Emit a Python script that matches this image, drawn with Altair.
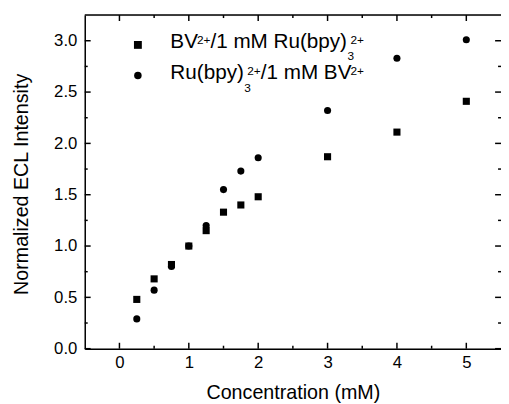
import altair as alt
import pandas as pd

# ---- data ----
conc = [0.25, 0.5, 0.75, 1.0, 1.25, 1.5, 1.75, 2.0, 3.0, 4.0, 5.0]
bv_series = [0.48, 0.68, 0.82, 1.00, 1.15, 1.33, 1.40, 1.48, 1.87, 2.11, 2.41]
ru_series = [0.29, 0.57, 0.80, 1.00, 1.20, 1.55, 1.73, 1.86, 2.32, 2.83, 3.01]
series_names = ["BV/Ru", "Ru/BV"]

x_major = [0, 1, 2, 3, 4, 5]
x_minor = [0.5, 1.5, 2.5, 3.5, 4.5]
y_major = [0.0, 0.5, 1.0, 1.5, 2.0, 2.5, 3.0]
y_minor = [0.25, 0.75, 1.25, 1.75, 2.25, 2.75]

x_title = "Concentration (mM)"
y_title = "Normalized ECL Intensity"

# legend lines as (text, role) segments; role: main / sup / sub / sup_stack
legend_line1 = [("BV", "main"), ("2+", "sup"), ("/1 mM Ru(bpy)", "main"), ("3", "sub"), ("2+", "sup_stack")]
legend_line2 = [("Ru(bpy)", "main"), ("3", "sub"), ("2+", "sup_stack"), ("/1 mM BV", "main"), ("2+", "sup")]

FONT = "Liberation Sans"
W, H = 423, 339
MAIN_FS, SMALL_FS = 21, 12

df = pd.DataFrame({
    "conc": conc * 2,
    "value": bv_series + ru_series,
    "series": [series_names[0]] * len(conc) + [series_names[1]] * len(conc),
})

xscale = alt.Scale(domain=[-0.5, 5.5], nice=False, zero=False)
yscale = alt.Scale(domain=[0, 3.25], nice=False, zero=False)

x_axis = alt.Axis(values=x_major, format="d", labelFont=FONT, labelFontSize=17, labelColor="black",
                  labelPadding=6, ticks=False, tickSize=0, domain=True, domainColor="black",
                  domainWidth=1.5, grid=False, titleFont=FONT, titleFontSize=20, titleColor="black",
                  titleFontWeight="normal", titleX=W / 2, titleY=50.5, titleBaseline="alphabetic",
                  titleAlign="center")
y_axis = alt.Axis(values=y_major, format=".1f", labelFont=FONT, labelFontSize=17, labelColor="black",
                  labelPadding=8, ticks=False, tickSize=0, domain=True, domainColor="black",
                  domainWidth=1.5, grid=False, titleFont=FONT, titleFontSize=20, titleColor="black",
                  titleFontWeight="normal", titleAngle=270, titleX=-58, titleY=171.5,
                  titleBaseline="alphabetic", titleAlign="center")

points = alt.Chart(df).mark_point(filled=True, opacity=1, size=52, strokeWidth=0, color="black").encode(
    x=alt.X("conc:Q", scale=xscale, axis=x_axis, title=x_title),
    y=alt.Y("value:Q", scale=yscale, axis=y_axis, title=y_title),
    shape=alt.Shape("series:N", scale=alt.Scale(domain=series_names, range=["square", "circle"]), legend=None),
)

layers = [points]

# top frame line
one = pd.DataFrame({"a": [0]})
layers.append(alt.Chart(one).mark_rule(color="black", strokeWidth=1.5).encode(
    x=alt.value(0), x2=alt.value(W), y=alt.value(0)))

# inward ticks
def xticks(vals, length):
    d = pd.DataFrame({"conc": vals})
    bottom = alt.Chart(d).mark_rule(color="black", strokeWidth=1.5).encode(
        x=alt.X("conc:Q", scale=xscale, title=x_title), y=alt.value(H), y2=alt.value(H - length))
    top = alt.Chart(d).mark_rule(color="black", strokeWidth=1.5).encode(
        x=alt.X("conc:Q", scale=xscale, title=x_title), y=alt.value(0), y2=alt.value(length))
    return [bottom, top]

def yticks(vals, length):
    d = pd.DataFrame({"value": vals})
    left = alt.Chart(d).mark_rule(color="black", strokeWidth=1.5).encode(
        y=alt.Y("value:Q", scale=yscale, title=y_title), x=alt.value(0), x2=alt.value(length))
    right = alt.Chart(d).mark_rule(color="black", strokeWidth=1.5).encode(
        y=alt.Y("value:Q", scale=yscale, title=y_title), x=alt.value(W), x2=alt.value(W - length))
    return [left, right]

layers += xticks(x_major, 6) + xticks(x_minor, 3) + yticks(y_major, 6) + yticks(y_minor, 3)

# ---- manual legend ----
AW = {'B': 667, 'V': 667, '/': 278, '1': 556, ' ': 278, 'm': 833, 'M': 833, 'R': 722, 'u': 556,
      '(': 333, 'b': 556, 'p': 556, 'y': 500, ')': 333, '2': 556, '+': 584, '3': 556}

def tw(s, fs):
    return sum(AW.get(c, 556) for c in s) / 1000 * fs

def legend_text(segments, x0, base):
    out = []
    x = x0
    sub_x = x0
    for text, role in segments:
        if role == "main":
            fs, y, px = MAIN_FS, base, x
            x = px + tw(text, fs)
        elif role == "sup":
            fs, y, px = SMALL_FS, base - 4, x - 1
            x = px + tw(text, fs)
        elif role == "sub":
            fs, y, px = SMALL_FS, base + 12.5, x + 0.5
            sub_x = px
            x = px + tw(text, fs)
        else:  # sup stacked over subscript
            fs, y, px = SMALL_FS, base - 4, sub_x + 3
            x = max(x, px + tw(text, fs))
        out.append(alt.Chart(one).mark_text(text=text, font=FONT, fontSize=fs, align="left",
                                            baseline="alphabetic", color="black").encode(
            x=alt.value(px), y=alt.value(y)))
    return out

layers.append(alt.Chart(one).mark_point(filled=True, opacity=1, strokeWidth=0, color="black").encode(
    x=alt.value(54), y=alt.value(30.3), shape=alt.value("square"), size=alt.value(64)))
layers.append(alt.Chart(one).mark_point(filled=True, opacity=1, strokeWidth=0, color="black").encode(
    x=alt.value(54), y=alt.value(61.3), shape=alt.value("circle"), size=alt.value(58)))
layers += legend_text(legend_line1, 87, 33.3)
layers += legend_text(legend_line2, 87, 65.3)

chart = alt.layer(*layers).properties(
    width=W, height=H,
    autosize=alt.AutoSizeParams(type="none"),
    padding={"left": 78, "top": 4, "right": 0, "bottom": 52},
).configure_view(stroke=None).configure(background="white")

chart.save("out.html", embed_options={"renderer": "svg", "actions": False})
